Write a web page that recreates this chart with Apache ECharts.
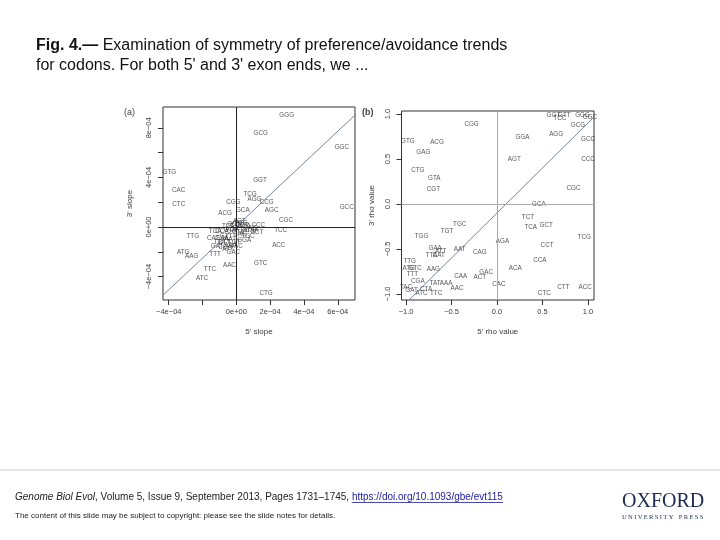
<!DOCTYPE html>
<html>
<head>
<meta charset="utf-8">
<script src="https://cdn.jsdelivr.net/npm/echarts@6/dist/echarts.min.js"></script>
<style>
html,body{margin:0;padding:0;background:#fff;}
#chart{width:720px;height:540px;}
</style>
</head>
<body>
<div id="chart"></div>
<script>
// ---------- Panel (a): 5' slope vs 3' slope ----------
const codonsA = ['GGG','GCG','GGC','GTG','GGT','CAC','TCG','AGG','CGG','CTC','CCG','GCA','AGC','ACG','GCC','CGC','AGT','CCC','TCC','TTG','ACC','TAC','GAC','ATG','AAG','TTT','GTC','AAC','TTC','ATC','CTG',
  'GAT','CGA','CAT','GAA','AAT','TCA','CCA','GTA','CTA','TAT','CAA','ACT','TCT','CCT','ACA','GAG','AGA','CAG','GTT','TGC','TGT','GGA','CTT','ATT','GCT','CGT','TGG','AAA','TTA'];
const slope5 = [2.98e-4,1.44e-4,6.24e-4,-3.96e-4,1.40e-4,-3.41e-4,0.81e-4,1.07e-4,-0.18e-4,-3.41e-4,1.80e-4,0.38e-4,2.09e-4,-0.67e-4,6.53e-4,2.94e-4,0.18e-4,1.30e-4,2.62e-4,-2.58e-4,2.51e-4,0.02e-4,-0.18e-4,-3.14e-4,-2.64e-4,-1.26e-4,1.44e-4,-0.41e-4,-1.56e-4,-2.03e-4,1.76e-4,
  -1.14e-4,-0.67e-4,-1.38e-4,-0.85e-4,-0.37e-4,-1.26e-4,-0.85e-4,-0.37e-4,0.10e-4,0.51e-4,0.93e-4,1.22e-4,-0.49e-4,0.00e-4,0.46e-4,0.81e-4,-0.25e-4,0.22e-4,-0.61e-4,0.69e-4,-0.14e-4,0.46e-4,-0.73e-4,-0.49e-4,-0.15e-4,0.35e-4,0.25e-4,-0.35e-4,-1.00e-4];
const slope3 = [8.98e-4,7.60e-4,6.40e-4,4.38e-4,3.79e-4,2.96e-4,2.64e-4,2.23e-4,1.96e-4,1.83e-4,1.96e-4,1.37e-4,1.31e-4,1.10e-4,1.56e-4,0.51e-4,0.43e-4,0.15e-4,-0.27e-4,-0.78e-4,-1.51e-4,-1.59e-4,-2.07e-4,-2.04e-4,-2.39e-4,-2.18e-4,-2.90e-4,-3.06e-4,-3.41e-4,-4.14e-4,-5.32e-4,
  -1.53e-4,-1.61e-4,-0.89e-4,-0.89e-4,-0.97e-4,-0.32e-4,-0.32e-4,-0.24e-4,-0.40e-4,-0.24e-4,-0.24e-4,-0.40e-4,0.08e-4,0.16e-4,0.08e-4,-0.08e-4,-0.16e-4,-0.56e-4,-0.73e-4,-0.73e-4,-1.21e-4,-1.05e-4,-1.21e-4,-1.77e-4,0.25e-4,0.10e-4,0.30e-4,-1.45e-4,-1.20e-4];
const diagA5 = [-4.32e-4, 7.02e-4];
const diagA3 = [-5.48e-4, 9.03e-4];
const xTicksA = [-4e-4,-2e-4,0,2e-4,4e-4,6e-4];
const xLabelValsA = [-4e-4,0,2e-4,4e-4,6e-4];
const xLabelsA = ['\u22124e\u221204','0e+00','2e\u221204','4e\u221204','6e\u221204'];
const yTicksA = [-4e-4,-2e-4,0,2e-4,4e-4,6e-4,8e-4];
const yLabelValsA = [-4e-4,0,4e-4,8e-4];
const yLabelsA = ['\u22124e\u221204','0e+00','4e\u221204','8e\u221204'];

// ---------- Panel (b): 5' rho vs 3' rho ----------
const codonsB = ['GGG','GGT','GTT','TCC','GGC','GCG','CGG','GTG','ACG','GGA','AGG','GCC','GAG','AGT','CCC','CTG','GTA','CGT','CGC','GCA','TCT','TCA','GCT','TGC','TGT','TGG','TCG','AGA','CCT','GAA','ATT','TTA','CAT','AAT','CAG','CCA','TTG','ACA','ATG','GTC','AAG','TTT','CAA','GAC','ACT','CGA','TAT','AAA','CAC','AAC','TAC','GAT','CTA','TTC','ATC','CTC','CTT','ACC'];
const rho5 = [0.94,0.62,0.74,0.69,1.02,0.89,-0.28,-0.98,-0.66,0.28,0.65,1.00,-0.81,0.19,1.00,-0.87,-0.69,-0.70,0.84,0.46,0.34,0.37,0.54,-0.41,-0.55,-0.83,0.96,0.06,0.55,-0.68,-0.62,-0.72,-0.64,-0.41,-0.19,0.47,-0.96,0.20,-0.97,-0.90,-0.70,-0.93,-0.40,-0.12,-0.19,-0.87,-0.68,-0.56,0.02,-0.44,-1.00,-0.94,-0.78,-0.67,-0.83,0.52,0.73,0.97];
const rho3 = [0.99,0.99,0.99,0.95,0.96,0.87,0.89,0.70,0.69,0.74,0.77,0.72,0.58,0.50,0.50,0.37,0.29,0.16,0.18,0.00,-0.15,-0.26,-0.24,-0.23,-0.30,-0.36,-0.37,-0.41,-0.46,-0.49,-0.52,-0.57,-0.57,-0.50,-0.54,-0.63,-0.64,-0.71,-0.71,-0.71,-0.73,-0.78,-0.80,-0.76,-0.81,-0.86,-0.88,-0.88,-0.89,-0.94,-0.93,-0.96,-0.95,-0.99,-0.99,-0.99,-0.93,-0.93];
const diagB5 = [-0.967, 1.07];
const diagB3 = [-1.067, 0.97];
const ticksB = [-1,-0.5,0,0.5,1];
const labelsB = ['\u22121.0','\u22120.5','0.0','0.5','1.0'];

const FONT = 'Liberation Sans';
const INK = '#2a2a2a';

function lookup(vals, labs) {
  return function (v) {
    for (let i = 0; i < vals.length; i++) if (Math.abs(vals[i] - v) < 1e-9) return labs[i];
    return '';
  };
}

function makeAxis(grid, min, max, tickVals, labelVals, labels, isY) {
  return {
    type: 'value', gridIndex: grid, min: min, max: max,
    axisLine: { show: false, onZero: false },
    splitLine: { show: false },
    axisTick: { show: true, length: 5, customValues: tickVals, lineStyle: { color: '#333', width: 1 } },
    axisLabel: {
      show: true, customValues: labelVals, formatter: lookup(labelVals, labels),
      fontSize: 7.5, color: '#3a3a3a', fontFamily: FONT, margin: isY ? 10 : 8, rotate: isY ? 90 : 0,
      showMinLabel: true, showMaxLabel: true
    }
  };
}

const dataA = codonsA.map((c, i) => [slope5[i], slope3[i], c]);
const dataB = codonsB.map((c, i) => [rho5[i], rho3[i], c]);

const labelStyle = {
  show: true, position: 'inside', formatter: p => p.data[2],
  fontSize: 6.3, color: INK, fontFamily: FONT
};

// footer text pieces and underline placement measured from the font
const footItalic = 'Genome Biol Evol';
const footPlain = ', Volume 5, Issue 9, September 2013, Pages 1731\u20131745, ';
const footUrl = 'https://doi.org/10.1093/gbe/evt115';
const mctx = document.createElement('canvas').getContext('2d');
mctx.font = 'italic 10px "Liberation Sans"';
const wItalic = mctx.measureText(footItalic).width;
mctx.font = '10px "Liberation Sans"';
const wPlain = mctx.measureText(footPlain).width;
const wUrl = mctx.measureText(footUrl).width;
const footLeft = 15, footTop = 492;
const urlX = footLeft + wItalic + wPlain;

const chart = echarts.init(document.getElementById('chart'), null, { renderer: 'canvas' });
chart.setOption({
  backgroundColor: '#fff',
  animation: false,
  grid: [
    { left: 163, top: 107, width: 192, height: 193, show: true, borderColor: '#333', borderWidth: 1, backgroundColor: 'transparent' },
    { left: 401.5, top: 111, width: 192.5, height: 189, show: true, borderColor: '#333', borderWidth: 1, backgroundColor: 'transparent' }
  ],
  xAxis: [
    Object.assign(makeAxis(0, -4.34e-4, 7.02e-4, xTicksA, xLabelValsA, xLabelsA, false),
      { name: "5' slope", nameLocation: 'middle', nameGap: 28, nameTextStyle: { fontSize: 8, color: '#3a3a3a', fontFamily: FONT } }),
    Object.assign(makeAxis(1, -1.05, 1.066, ticksB, ticksB, labelsB, false),
      { name: "5' rho value", nameLocation: 'middle', nameGap: 28, nameTextStyle: { fontSize: 8, color: '#3a3a3a', fontFamily: FONT } })
  ],
  yAxis: [
    Object.assign(makeAxis(0, -5.89e-4, 9.68e-4, yTicksA, yLabelValsA, yLabelsA, true),
      { name: "3' slope", nameLocation: 'middle', nameGap: 29, nameTextStyle: { fontSize: 8, color: '#3a3a3a', fontFamily: FONT } }),
    Object.assign(makeAxis(1, -1.067, 1.033, ticksB, ticksB, labelsB, true),
      { name: "3' rho value", nameLocation: 'middle', nameGap: 26, nameTextStyle: { fontSize: 8, color: '#3a3a3a', fontFamily: FONT } })
  ],
  series: [
    {
      type: 'scatter', xAxisIndex: 0, yAxisIndex: 0, symbolSize: 0, silent: true,
      data: dataA, label: labelStyle,
      markLine: {
        silent: true, symbol: 'none', label: { show: false },
        lineStyle: { color: '#222', type: 'solid', width: 1 },
        data: [{ xAxis: 0 }, { yAxis: 0 }]
      }
    },
    {
      type: 'line', xAxisIndex: 0, yAxisIndex: 0, symbol: 'none', silent: true,
      data: diagA5.map((v, i) => [v, diagA3[i]]),
      lineStyle: { color: '#56648a', width: 0.8 }
    },
    {
      type: 'scatter', xAxisIndex: 1, yAxisIndex: 1, symbolSize: 0, silent: true,
      data: dataB, label: labelStyle,
      markLine: {
        silent: true, symbol: 'none', label: { show: false },
        lineStyle: { color: '#aaa', type: 'solid', width: 1 },
        data: [{ xAxis: 0 }, { yAxis: 0 }]
      }
    },
    {
      type: 'line', xAxisIndex: 1, yAxisIndex: 1, symbol: 'none', silent: true,
      data: diagB5.map((v, i) => [v, diagB3[i]]),
      lineStyle: { color: '#56648a', width: 0.8 }
    }
  ],
  graphic: [
    { type: 'text', left: 36, top: 36, style: {
        text: '{b|Fig. 4.\u2014} Examination of symmetry of preference/avoidance trends\nfor codons. For both 5\' and 3\' exon ends, we ...',
        font: '16px "Liberation Sans"', fill: '#111', lineHeight: 20,
        rich: { b: { fontWeight: 'bold', fontSize: 16, fontFamily: FONT, fill: '#111', lineHeight: 20 } }
    } },
    { type: 'text', left: 124, top: 108, style: { text: '(a)', font: '9px "Liberation Sans"', fill: '#444' } },
    { type: 'text', left: 362, top: 108, style: { text: '(b)', font: 'bold 9px "Liberation Sans"', fill: '#444' } },
    { type: 'line', shape: { x1: 0, y1: 470, x2: 720, y2: 470 }, style: { stroke: '#d0d0d0', lineWidth: 1 } },
    { type: 'text', left: footLeft, top: footTop, style: {
        text: '{i|' + footItalic + '}' + footPlain + '{u|' + footUrl + '}',
        font: '10px "Liberation Sans"', fill: '#222',
        rich: { i: { fontStyle: 'italic', fontSize: 10, fontFamily: FONT, fill: '#222' },
                u: { fontSize: 10, fontFamily: FONT, fill: '#1a1aa6' } }
    } },
    { type: 'line', shape: { x1: urlX, y1: footTop + 10.5, x2: urlX + wUrl, y2: footTop + 10.5 }, style: { stroke: '#1a1aa6', lineWidth: 0.8 } },
    { type: 'text', left: 15, top: 512, style: {
        text: 'The content of this slide may be subject to copyright: please see the slide notes for details.',
        font: '8px "Liberation Sans"', fill: '#222'
    } },
    { type: 'text', left: 622, top: 492, style: { text: 'OXFORD', font: '20px "Liberation Serif"', fill: '#1d2b4f' } },
    { type: 'text', left: 622, top: 514, style: { text: 'U\u2009N\u2009I\u2009V\u2009E\u2009R\u2009S\u2009I\u2009T\u2009Y\u2009\u2009\u2009\u2009P\u2009R\u2009E\u2009S\u2009S', font: '6.6px "Liberation Serif"', fill: '#1d2b4f' } }
  ]
});
</script>
</body>
</html>
